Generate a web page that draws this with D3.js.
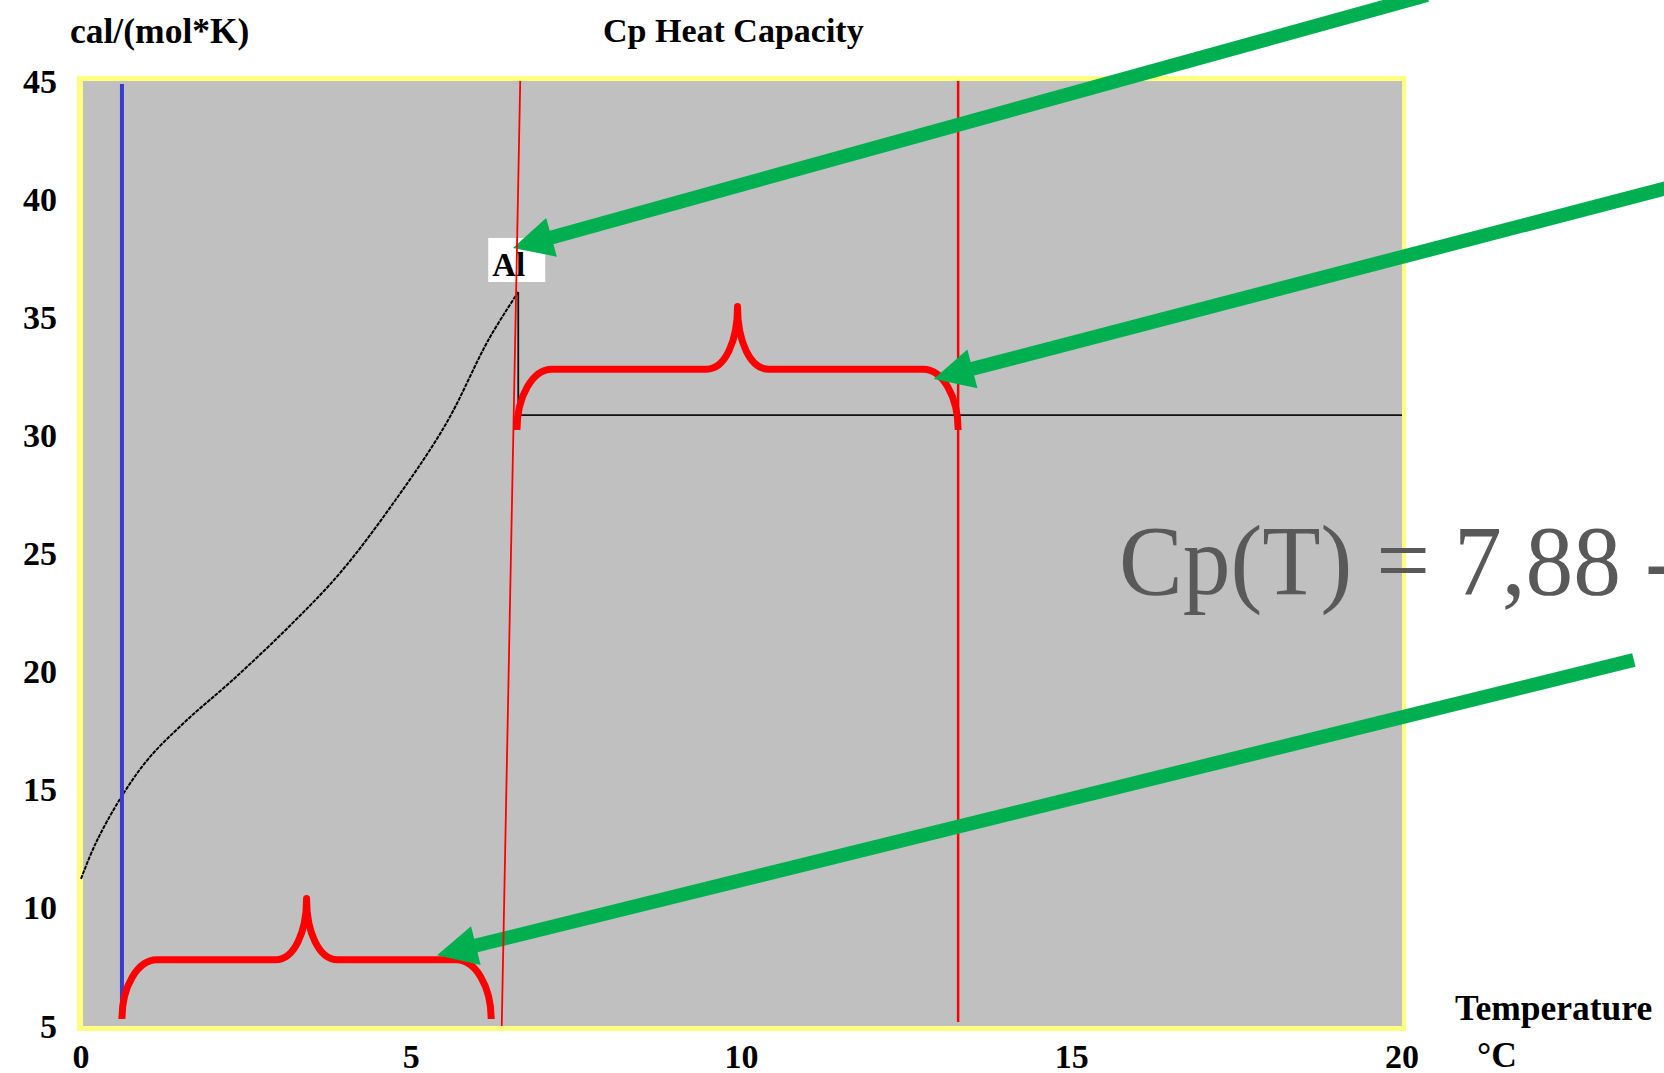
<!DOCTYPE html>
<html>
<head>
<meta charset="utf-8">
<script src="https://cdn.jsdelivr.net/npm/d3@7"></script>
<style>
  html, body { margin: 0; padding: 0; background: #ffffff; overflow: hidden; }
  svg { display: block; }
  text { font-family: "Liberation Serif", "Times New Roman", serif; }
</style>
</head>
<body>
<svg id="chart" width="1664" height="1073"></svg>
<script>
// ---------- data ----------
const xTicks = [0, 5, 10, 15, 20];
const yTicks = [5, 10, 15, 20, 25, 30, 35, 40, 45];

// Cp curve (solid phase), temperature axis units vs cal/(mol*K)
const curveT      = [0.00, 0.22, 0.60, 1.02, 1.58, 2.31, 3.19, 3.92, 4.72, 5.52, 6.17, 6.62];
const curveValues = [11.23, 12.72, 14.65, 16.31, 17.89, 19.68, 22.02, 24.17, 27.10, 30.46, 34.05, 36.07];

// drop and plateau (liquid phase)
const stepT      = [6.62, 6.62, 20];
const stepValues = [36.07, 30.86, 30.86];

// vertical marker lines
const blueLineT = 0.62;
const redLineT  = 13.28;
const redSlantT      = [6.65, 6.37];
const redSlantValues = [45, 5];

// curly braces: [t1, t2, vEnd, vBar, vPeak]
const braceT1    = [6.60, 0.62];
const braceT2    = [13.28, 6.21];
const braceEnd   = [30.23, 5.30];
const braceBar   = [32.80, 7.80];
const bracePeak  = [35.45, 10.40];

// green arrows: start (t,v) -> tip (t,v)
const arrowStartT = [20.38, 24.06, 23.51];
const arrowStartV = [48.64, 40.51, 20.49];
const arrowTipT   = [6.54, 12.91, 5.39];
const arrowTipV   = [37.93, 32.39, 8.00];

const labelText = "Al";
const titleText = "Cp Heat Capacity";
const yUnitText = "cal/(mol*K)";
const xUnitText1 = "Temperature";
const xUnitText2 = "°C";
const formulaText = "Cp(T) = 7,88 -";

// ---------- drawing ----------
const svg = d3.select("#chart");
const x = d3.scaleLinear().domain([0, 20]).range([81, 1402]);
const y = d3.scaleLinear().domain([5, 45]).range([1026, 81]);

const serifBold = g => g.attr("font-weight", "bold").attr("font-size", 34).attr("fill", "#000");

// plot frame
svg.append("rect")
  .attr("x", x(0) - 4).attr("y", y(45) - 5)
  .attr("width", x(20) - x(0) + 8).attr("height", y(5) - y(45) + 10)
  .attr("fill", "#ffff80");
svg.append("rect")
  .attr("x", x(0) + 2).attr("y", y(45))
  .attr("width", x(20) - x(0) - 2).attr("height", y(5) - y(45))
  .attr("fill", "#c0c0c0");

// y ticks
svg.append("g").selectAll("text").data(yTicks).join("text")
  .call(serifBold)
  .attr("text-anchor", "end")
  .attr("x", 57)
  .attr("y", d => y(d) + 11.5)
  .text(d => d);

// x ticks
svg.append("g").selectAll("text").data(xTicks).join("text")
  .call(serifBold)
  .attr("text-anchor", "middle")
  .attr("x", d => x(d))
  .attr("y", 1068)
  .text(d => d);

// titles
svg.append("text").call(serifBold).attr("font-size", 35.5).attr("x", 70).attr("y", 43).text(yUnitText);
svg.append("text").call(serifBold).attr("x", 603).attr("y", 42).text(titleText);
svg.append("text").call(serifBold).attr("font-size", 35.5).attr("x", 1455).attr("y", 1020).text(xUnitText1);
svg.append("text").call(serifBold).attr("font-size", 35.5).attr("x", 1477).attr("y", 1067).text(xUnitText2);

// formula
svg.append("text")
  .attr("transform", "translate(1119,594) scale(0.955,1)")
  .attr("font-size", 100)
  .attr("fill", "#595959")
  .text(formulaText);

// Cp curve
const curveData = curveT.map((t, i) => [t, curveValues[i]]);
svg.append("path")
  .datum(curveData)
  .attr("d", d3.line().x(d => x(d[0])).y(d => y(d[1])).curve(d3.curveCatmullRom.alpha(0.5)))
  .attr("fill", "none")
  .attr("stroke", "#000")
  .attr("stroke-width", 2)
  .attr("stroke-dasharray", "4,1");

const stepData = stepT.map((t, i) => [t, stepValues[i]]);
svg.append("path")
  .datum(stepData)
  .attr("d", d3.line().x(d => x(d[0])).y(d => y(d[1])))
  .attr("fill", "none")
  .attr("stroke", "#111")
  .attr("stroke-width", 1.8);

// blue vertical line
svg.append("line")
  .attr("x1", x(blueLineT)).attr("x2", x(blueLineT))
  .attr("y1", y(45) + 3).attr("y2", y(5.5))
  .attr("stroke", "#3b3bcc").attr("stroke-width", 4);

// red vertical line
svg.append("line")
  .attr("x1", x(redLineT)).attr("x2", x(redLineT))
  .attr("y1", y(45)).attr("y2", y(5) - 4)
  .attr("stroke", "#ff0000").attr("stroke-width", 2.5);

// "Al" label
const pk = [x(curveT[curveT.length - 1]), y(curveValues[curveValues.length - 1])];
svg.append("rect")
  .attr("x", pk[0] - 30).attr("y", pk[1] - 54)
  .attr("width", 57).attr("height", 44)
  .attr("fill", "#ffffff");
svg.append("text").call(serifBold)
  .attr("font-size", 33)
  .attr("x", pk[0] - 26).attr("y", pk[1] - 16)
  .text(labelText);

// braces
function bracePath(i) {
  const x1 = x(braceT1[i]), x2 = x(braceT2[i]);
  const ye = y(braceEnd[i]), yb = y(braceBar[i]), yp = y(bracePeak[i]);
  const xm = (x1 + x2) / 2, r = 35, c = 31;
  const h = ye - yb, hp = yb - yp;
  return `M${x1},${ye} C${x1},${ye - h * 0.55} ${x1 + r * 0.45},${yb} ${x1 + r},${yb}` +
         ` L${xm - c},${yb} C${xm - c * 0.4},${yb} ${xm},${yb - hp * 0.45} ${xm},${yp}` +
         ` C${xm},${yb - hp * 0.45} ${xm + c * 0.4},${yb} ${xm + c},${yb}` +
         ` L${x2 - r},${yb} C${x2 - r * 0.45},${yb} ${x2},${ye - h * 0.55} ${x2},${ye}`;
}
svg.append("g").selectAll("path").data(braceT1.map((d, i) => i)).join("path")
  .attr("d", bracePath)
  .attr("fill", "none")
  .attr("stroke", "#ff0000")
  .attr("stroke-width", 7)
  .attr("stroke-linejoin", "round");

// green arrows
const ag = svg.append("g");
arrowStartT.forEach((t, i) => {
  const sx = x(t), sy = y(arrowStartV[i]);
  const tx = x(arrowTipT[i]), ty = y(arrowTipV[i]);
  const dx = sx - tx, dy = sy - ty, L = Math.hypot(dx, dy);
  const ux = dx / L, uy = dy / L, px = -uy, py = ux;
  const hl = 40, hw = 20;
  const bx = tx + ux * hl, by = ty + uy * hl;
  ag.append("line")
    .attr("x1", sx).attr("y1", sy)
    .attr("x2", bx - ux * 2).attr("y2", by - uy * 2)
    .attr("stroke", "#00b050").attr("stroke-width", 14);
  ag.append("path")
    .attr("d", `M${tx},${ty} L${bx + px * hw},${by + py * hw} L${bx - px * hw},${by - py * hw} Z`)
    .attr("fill", "#00b050");
});

// red slanted line
svg.append("line")
  .attr("x1", x(redSlantT[0])).attr("y1", y(redSlantValues[0]))
  .attr("x2", x(redSlantT[1])).attr("y2", y(redSlantValues[1]))
  .attr("stroke", "#ff0000").attr("stroke-width", 1.8);
</script>
</body>
</html>
